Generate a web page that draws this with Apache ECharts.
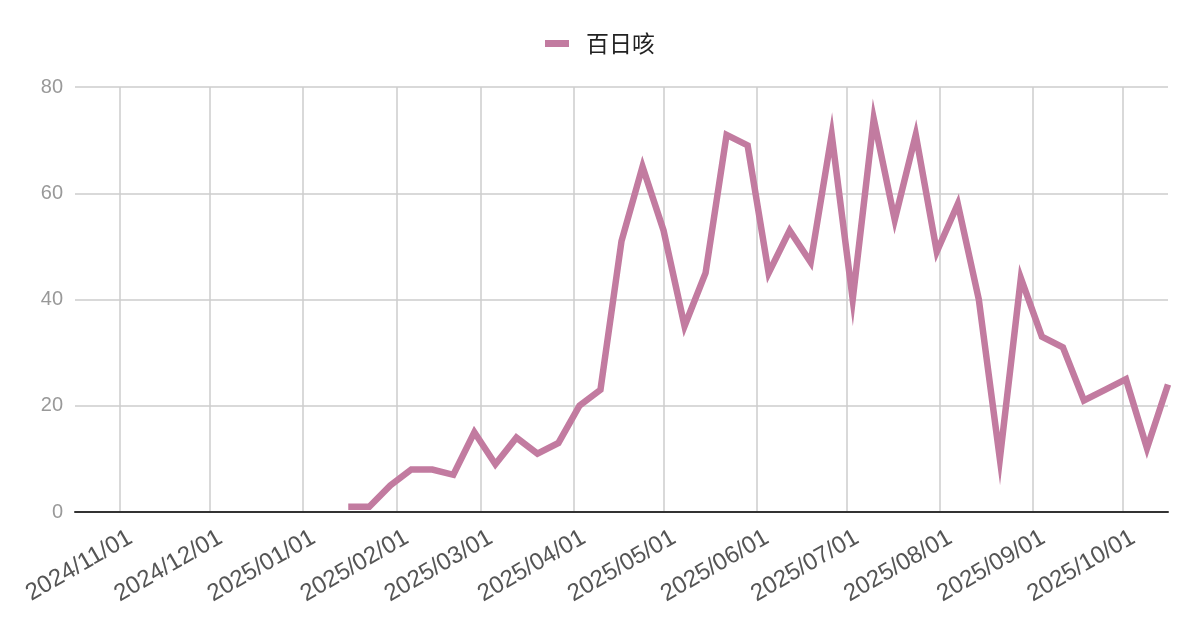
<!DOCTYPE html>
<html>
<head>
<meta charset="utf-8">
<script src="https://cdn.jsdelivr.net/npm/echarts@6/dist/echarts.min.js"></script>
<style>
html,body{margin:0;padding:0;background:#fff;}
#chart{width:1200px;height:626px;}
</style>
</head>
<body>
<div id="chart"></div>
<script>
const seriesName = '百日咳';
const dates = [
  '2025-01-16','2025-01-23','2025-01-30','2025-02-06','2025-02-13','2025-02-20','2025-02-27',
  '2025-03-06','2025-03-13','2025-03-20','2025-03-27','2025-04-03','2025-04-10','2025-04-17',
  '2025-04-24','2025-05-01','2025-05-08','2025-05-15','2025-05-22','2025-05-29','2025-06-05',
  '2025-06-12','2025-06-19','2025-06-26','2025-07-03','2025-07-10','2025-07-17','2025-07-24',
  '2025-07-31','2025-08-07','2025-08-14','2025-08-21','2025-08-28','2025-09-04','2025-09-11',
  '2025-09-18','2025-09-25','2025-10-02','2025-10-09','2025-10-16'
];
const values = [1,1,5,8,8,7,15,9,14,11,13,20,23,51,65,53,35,45,71,69,45,53,47,71,40,74,55,71,49,58,40,10,44,33,31,21,23,25,12,24];
const axisMinDate = '2024-10-17';
const axisMaxDate = '2025-10-16';
const yTicks = [0, 20, 40, 60, 80];

function utc(s){ const p = s.split('-').map(Number); return Date.UTC(p[0], p[1]-1, p[2]); }
function pad(n){ return (n<10?'0':'') + n; }

const chart = echarts.init(document.getElementById('chart'), null, {renderer:'canvas'});
chart.setOption({
  useUTC: true,
  animation: false,
  backgroundColor: '#ffffff',
  textStyle: { fontFamily: '"Liberation Sans", Arial, "Noto Sans CJK SC", sans-serif' },
  legend: {
    top: 27,
    left: 'center',
    itemWidth: 24,
    itemHeight: 7,
    itemGap: 10,
    icon: 'rect',
    textStyle: { fontSize: 23, color: '#222', padding: [0, 0, 0, 12], fontFamily: '"Noto Sans CJK SC", sans-serif' },
    data: [seriesName]
  },
  grid: { left: 75, right: 32, top: 87, bottom: 114 },
  xAxis: {
    type: 'time',
    min: utc(axisMinDate),
    max: utc(axisMaxDate),
    splitNumber: 12,
    axisLine: { show: true, lineStyle: { color: '#333', width: 2 } },
    axisTick: { show: false },
    splitLine: { show: true, showMinLine: false, showMaxLine: false, lineStyle: { color: '#cccccc', width: 1.5 } },
    axisLabel: {
      showMinLabel: false,
      showMaxLabel: false,
      rotate: 30,
      margin: 30,
      fontSize: 24,
      color: '#555',
      padding: [0, -12, 0, 0],
      hideOverlap: false,
      formatter: function (v) {
        const d = new Date(v);
        return d.getUTCFullYear() + '/' + pad(d.getUTCMonth()+1) + '/' + pad(d.getUTCDate());
      }
    }
  },
  yAxis: {
    type: 'value',
    min: yTicks[0],
    max: yTicks[yTicks.length-1],
    interval: yTicks[1]-yTicks[0],
    axisLine: { show: false },
    axisTick: { show: false },
    splitLine: { lineStyle: { color: '#cccccc', width: 1.5 } },
    axisLabel: { fontSize: 20, color: '#999999', margin: 12 }
  },
  series: [{
    name: seriesName,
    type: 'line',
    data: dates.map((d,i) => [utc(d), values[i]]),
    showSymbol: false,
    symbol: 'none',
    color: '#c27ba0',
    lineStyle: { color: '#c27ba0', width: 6.5, join: 'miter', miterLimit: 10 },
    clip: true
  }]
});
</script>
</body>
</html>
